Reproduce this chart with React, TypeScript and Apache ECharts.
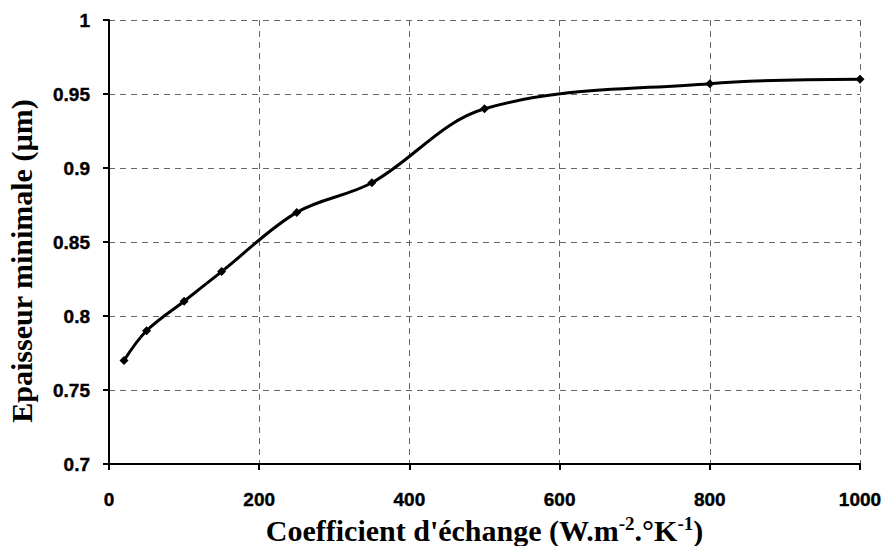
import React, { useEffect, useRef } from "react";
import * as echarts from "echarts";

const xValues = [20, 50, 100, 150, 250, 350, 500, 800, 1000];
const yValues = [0.77, 0.79, 0.81, 0.83, 0.87, 0.89, 0.94, 0.957, 0.96];
const xAxisTitle = "Coefficient d'échange";
const yAxisTitle = "Epaisseur minimale (µm)";

export default function App() {
  const ref = useRef<HTMLDivElement>(null);
  useEffect(() => {
    const chart = echarts.init(ref.current!, null, { renderer: "svg" });
    const serif = "Liberation Serif";
    const tickFont = {
      color: "#000",
      fontFamily: "Liberation Sans",
      fontWeight: "bold",
      fontSize: 19,
      textBorderColor: "#000",
      textBorderWidth: 0.4,
    };
    chart.setOption({
      animation: false,
      backgroundColor: "#fff",
      grid: { left: 109, right: 25, top: 20, bottom: 82, containLabel: false, outerBoundsMode: "none" },
      xAxis: {
        type: "value",
        min: 0,
        max: 1000,
        interval: 200,
        axisLine: { show: true, onZero: false, lineStyle: { color: "#000", width: 2 } },
        axisTick: { show: true, inside: false, length: 6, lineStyle: { color: "#000", width: 2 } },
        axisLabel: { show: true, margin: 26, ...tickFont, formatter: (v: number) => String(v) },
        splitLine: { show: true, lineStyle: { color: "#666", type: [6, 5], width: 1 } },
        name: `{a|${xAxisTitle} (W.m}{s|-2}{a|.°K}{s|-1}{a|)}`,
        nameLocation: "middle",
        nameGap: 49,
        nameTextStyle: {
          rich: {
            a: { fontFamily: serif, fontWeight: "bold", fontSize: 30, color: "#000" },
            s: { fontFamily: serif, fontWeight: "bold", fontSize: 19, color: "#000", padding: [0, 0, 14, 0] },
          },
        },
      },
      yAxis: {
        type: "value",
        min: 0.7,
        max: 1,
        interval: 0.05,
        axisLine: { show: true, onZero: false, lineStyle: { color: "#000", width: 2 } },
        axisTick: { show: true, inside: false, length: 6, lineStyle: { color: "#000", width: 2 } },
        axisLabel: {
          show: true,
          margin: 19,
          ...tickFont,
          formatter: (v: number) => String(Math.round(v * 100) / 100),
        },
        splitLine: { show: true, lineStyle: { color: "#666", type: [6, 5], width: 1 } },
        name: yAxisTitle,
        nameLocation: "middle",
        nameGap: 73,
        nameTextStyle: {
          fontFamily: serif,
          fontWeight: "bold",
          fontSize: 30,
          color: "#000",
          padding: [0, 38, 0, 0],
        },
      },
      series: [
        {
          type: "line",
          data: xValues.map((x, i) => [x, yValues[i]]),
          smooth: 0.35,
          symbol: "diamond",
          symbolSize: 9,
          lineStyle: { color: "#000", width: 3 },
          itemStyle: { color: "#000" },
        },
      ],
    });
    return () => chart.dispose();
  }, []);
  return <div ref={ref} style={{ width: 885, height: 546, position: "absolute", left: 0, top: 0 }} />;
}
